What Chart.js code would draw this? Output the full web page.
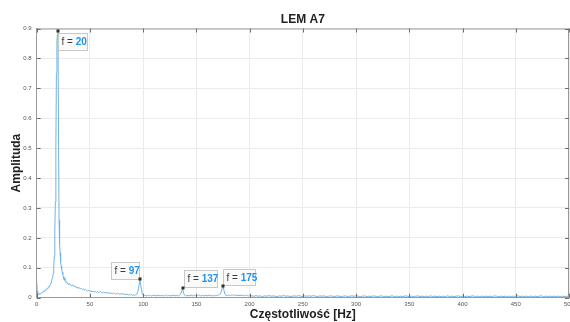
<!DOCTYPE html>
<html>
<head>
<meta charset="utf-8">
<script src="https://cdn.jsdelivr.net/npm/chart.js@4.4.0/dist/chart.umd.min.js"></script>
<style>
  html,body{margin:0;padding:0;background:#fff;}
  #wrap{width:570px;height:322px;position:relative;}
</style>
</head>
<body>
<div id="wrap"><canvas id="chart" width="570" height="322"></canvas></div>
<script>
// spectrum bins: 0-30 Hz every 0.5 Hz, 31-200 Hz every 1 Hz, 202-500 Hz every 2 Hz
const lowBandStart=0, lowBandStep=0.5;
const lowBandAmp=[
  0.055,0.022,0.012,0.010,0.011,0.012,0.014,0.013,0.015,0.016,
  0.018,0.017,0.020,0.022,0.021,0.024,0.026,0.025,0.028,0.030,
  0.032,0.031,0.035,0.038,0.037,0.042,0.045,0.050,0.058,0.064,
  0.070,0.080,0.100,0.140,0.220,0.320,0.500,0.750,0.860,0.880,
  0.890,0.550,0.260,0.180,0.150,0.120,0.105,0.095,0.085,0.078,
  0.070,0.062,0.065,0.058,0.055,0.052,0.050,0.048,0.050,0.046,
  0.044
];
const midBandStart=31, midBandStep=1;
const midBandAmp=[
  0.047,0.042,0.040,0.043,0.037,0.039,0.034,0.036,0.031,0.034,
  0.029,0.031,0.027,0.030,0.025,0.027,0.024,0.022,0.025,0.021,
  0.023,0.020,0.022,0.019,0.021,0.018,0.020,0.017,0.019,0.021,
  0.017,0.016,0.019,0.016,0.018,0.015,0.017,0.014,0.016,0.015,
  0.013,0.016,0.014,0.012,0.015,0.013,0.014,0.011,0.013,0.012,
  0.014,0.011,0.012,0.010,0.012,0.009,0.011,0.009,0.010,0.008,
  0.009,0.008,0.010,0.012,0.020,0.040,0.061,0.036,0.015,0.007,
  0.007,0.008,0.006,0.008,0.007,0.009,0.007,0.006,0.008,0.007,
  0.008,0.006,0.007,0.009,0.007,0.006,0.008,0.007,0.006,0.008,
  0.007,0.009,0.006,0.007,0.008,0.006,0.007,0.009,0.007,0.006,
  0.008,0.007,0.006,0.008,0.011,0.019,0.031,0.015,0.008,0.006,
  0.007,0.008,0.006,0.007,0.009,0.007,0.006,0.008,0.007,0.006,
  0.008,0.007,0.009,0.006,0.007,0.008,0.006,0.007,0.008,0.006,
  0.007,0.009,0.007,0.006,0.008,0.007,0.006,0.008,0.007,0.008,
  0.009,0.011,0.016,0.029,0.040,0.023,0.010,0.008,0.007,0.009,
  0.008,0.007,0.009,0.008,0.010,0.007,0.008,0.009,0.007,0.008,
  0.007,0.009,0.008,0.006,0.008,0.007,0.009,0.007,0.006,0.008
];
const highBandStart=202, highBandStep=2;
const highBandAmp=[
  0.006,0.005,0.007,0.005,0.006,0.004,0.006,0.005,0.007,0.005,
  0.006,0.005,0.004,0.006,0.005,0.007,0.005,0.006,0.004,0.005,
  0.006,0.005,0.007,0.005,0.004,0.006,0.005,0.006,0.005,0.007,
  0.005,0.004,0.006,0.005,0.006,0.004,0.005,0.006,0.005,0.004,
  0.006,0.005,0.004,0.005,0.006,0.004,0.005,0.006,0.005,0.006,
  0.005,0.004,0.005,0.006,0.004,0.005,0.004,0.006,0.005,0.004,
  0.005,0.006,0.004,0.005,0.004,0.005,0.006,0.004,0.005,0.004,
  0.005,0.004,0.006,0.005,0.004,0.005,0.004,0.005,0.006,0.004,
  0.005,0.004,0.005,0.004,0.006,0.004,0.005,0.004,0.005,0.004,
  0.005,0.004,0.006,0.004,0.005,0.004,0.005,0.006,0.004,0.005,
  0.004,0.005,0.004,0.005,0.006,0.004,0.005,0.004,0.005,0.004,
  0.005,0.004,0.005,0.004,0.006,0.005,0.004,0.005,0.004,0.005,
  0.004,0.005,0.004,0.005,0.004,0.006,0.004,0.005,0.004,0.005,
  0.004,0.005,0.004,0.005,0.004,0.005,0.006,0.004,0.005,0.004,
  0.005,0.004,0.005,0.004,0.005,0.004,0.005,0.004,0.005,0.004
];
// data tips
const peakFreq=[20,97,137,175];
const peakAmp=[0.89,0.061,0.031,0.040];
const peakLabel=['20','97','137','175'];

const xTicks=[0,50,100,150,200,250,300,350,400,450,500];
const yTicks=[0,0.1,0.2,0.3,0.4,0.5,0.6,0.7,0.8,0.9];

const FONT='"Liberation Sans", Arial, Helvetica, sans-serif';

function band(start,step,amps){return amps.map((a,i)=>({x:start+i*step,y:a}));}
const points=[].concat(band(lowBandStart,lowBandStep,lowBandAmp),band(midBandStart,midBandStep,midBandAmp),band(highBandStart,highBandStep,highBandAmp));

// box offsets per tip: dx,dy from point, width, height
const tipBoxes=[[0,2,29,17],[-29,-17,28,17],[1,-18,33,17],[0,-17,32,16]];

const decor={
  id:'decor',
  afterDraw(chart){
    const ctx=chart.ctx, a=chart.chartArea, xs=chart.scales.x, ys=chart.scales.y;
    ctx.save();
    // box
    ctx.strokeStyle='#9a9a9a';ctx.lineWidth=1;
    ctx.beginPath();
    ctx.moveTo(a.left,a.top+0.5);ctx.lineTo(a.right,a.top+0.5);
    ctx.moveTo(a.right-0.5,a.top);ctx.lineTo(a.right-0.5,a.bottom);
    ctx.stroke();
    // inward ticks
    ctx.strokeStyle='#6e6e6e';
    ctx.beginPath();
    xTicks.forEach(t=>{const px=Math.round(xs.getPixelForValue(t))+0.5;
      ctx.moveTo(px,a.bottom);ctx.lineTo(px,a.bottom-4);
      ctx.moveTo(px,a.top);ctx.lineTo(px,a.top+4);});
    yTicks.forEach(t=>{const py=Math.round(ys.getPixelForValue(t))+0.5;
      ctx.moveTo(a.left,py);ctx.lineTo(a.left+4,py);
      ctx.moveTo(a.right,py);ctx.lineTo(a.right-4,py);});
    ctx.stroke();
    // data tips
    peakFreq.forEach((f,i)=>{
      const px=xs.getPixelForValue(f), py=ys.getPixelForValue(peakAmp[i]);
      const [dx,dy,w,h]=tipBoxes[i];
      const bx=Math.round(px+dx)+0.5, by=Math.round(py+dy)+0.5;
      ctx.fillStyle='rgba(250,250,250,0.95)';ctx.strokeStyle='#c8c8c8';
      ctx.fillRect(bx,by,w,h);ctx.strokeRect(bx,by,w,h);
      ctx.textBaseline='middle';ctx.textAlign='left';
      ctx.font='10px '+FONT;ctx.fillStyle='#3c3c3c';
      const pre='f = ';ctx.fillText(pre,bx+3,by+h/2+0.5);
      const pw=ctx.measureText(pre).width;
      ctx.font='bold 10px '+FONT;ctx.fillStyle='#1e93f0';
      ctx.fillText(peakLabel[i],bx+3+pw,by+h/2+0.5);
      ctx.fillStyle='#2f2f1f';
      ctx.fillRect(Math.round(px)-1.5,Math.round(py)-1.5,3,3);
    });
    // titles
    const cx=(a.left+a.right)/2;
    ctx.fillStyle='#222';ctx.textAlign='center';ctx.textBaseline='middle';
    ctx.font='bold 12px '+FONT;
    ctx.fillText('LEM A7',cx,19.5);
    ctx.fillText('Częstotliwość [Hz]',cx,315);
    ctx.translate(17,(a.top+a.bottom)/2);ctx.rotate(-Math.PI/2);
    ctx.fillText('Amplituda',0,0);
    ctx.restore();
  }
};

new Chart(document.getElementById('chart'),{
  type:'line',
  data:{datasets:[{data:points,borderColor:'#72b2e2',borderWidth:1,pointRadius:0,tension:0,fill:false}]},
  options:{
    responsive:false,animation:false,
    layout:{padding:{top:28.5,right:1,left:0,bottom:0}},
    plugins:{legend:{display:false},tooltip:{enabled:false},title:{display:false}},
    scales:{
      x:{type:'linear',min:0,max:500,
        afterBuildTicks(s){s.ticks=xTicks.map(v=>({value:v}));},
        afterFit(s){s.height=24.3;s.paddingLeft=0;s.paddingRight=0;},
        ticks:{color:'#555',font:{size:6,family:FONT},padding:3,maxRotation:0,autoSkip:false},
        grid:{color:'#ebebeb',drawTicks:false},
        border:{color:'#9a9a9a'}},
      y:{min:0,max:0.9,
        afterBuildTicks(s){s.ticks=yTicks.map(v=>({value:v}));},
        afterFit(s){s.width=36.7;s.paddingTop=0;s.paddingBottom=0;},
        ticks:{color:'#555',font:{size:6,family:FONT},padding:5,
          callback:v=>v===0?'0':v.toFixed(1)},
        grid:{color:'#ebebeb',drawTicks:false},
        border:{color:'#9a9a9a'}}
    }
  },
  plugins:[decor]
});
</script>
</body>
</html>
